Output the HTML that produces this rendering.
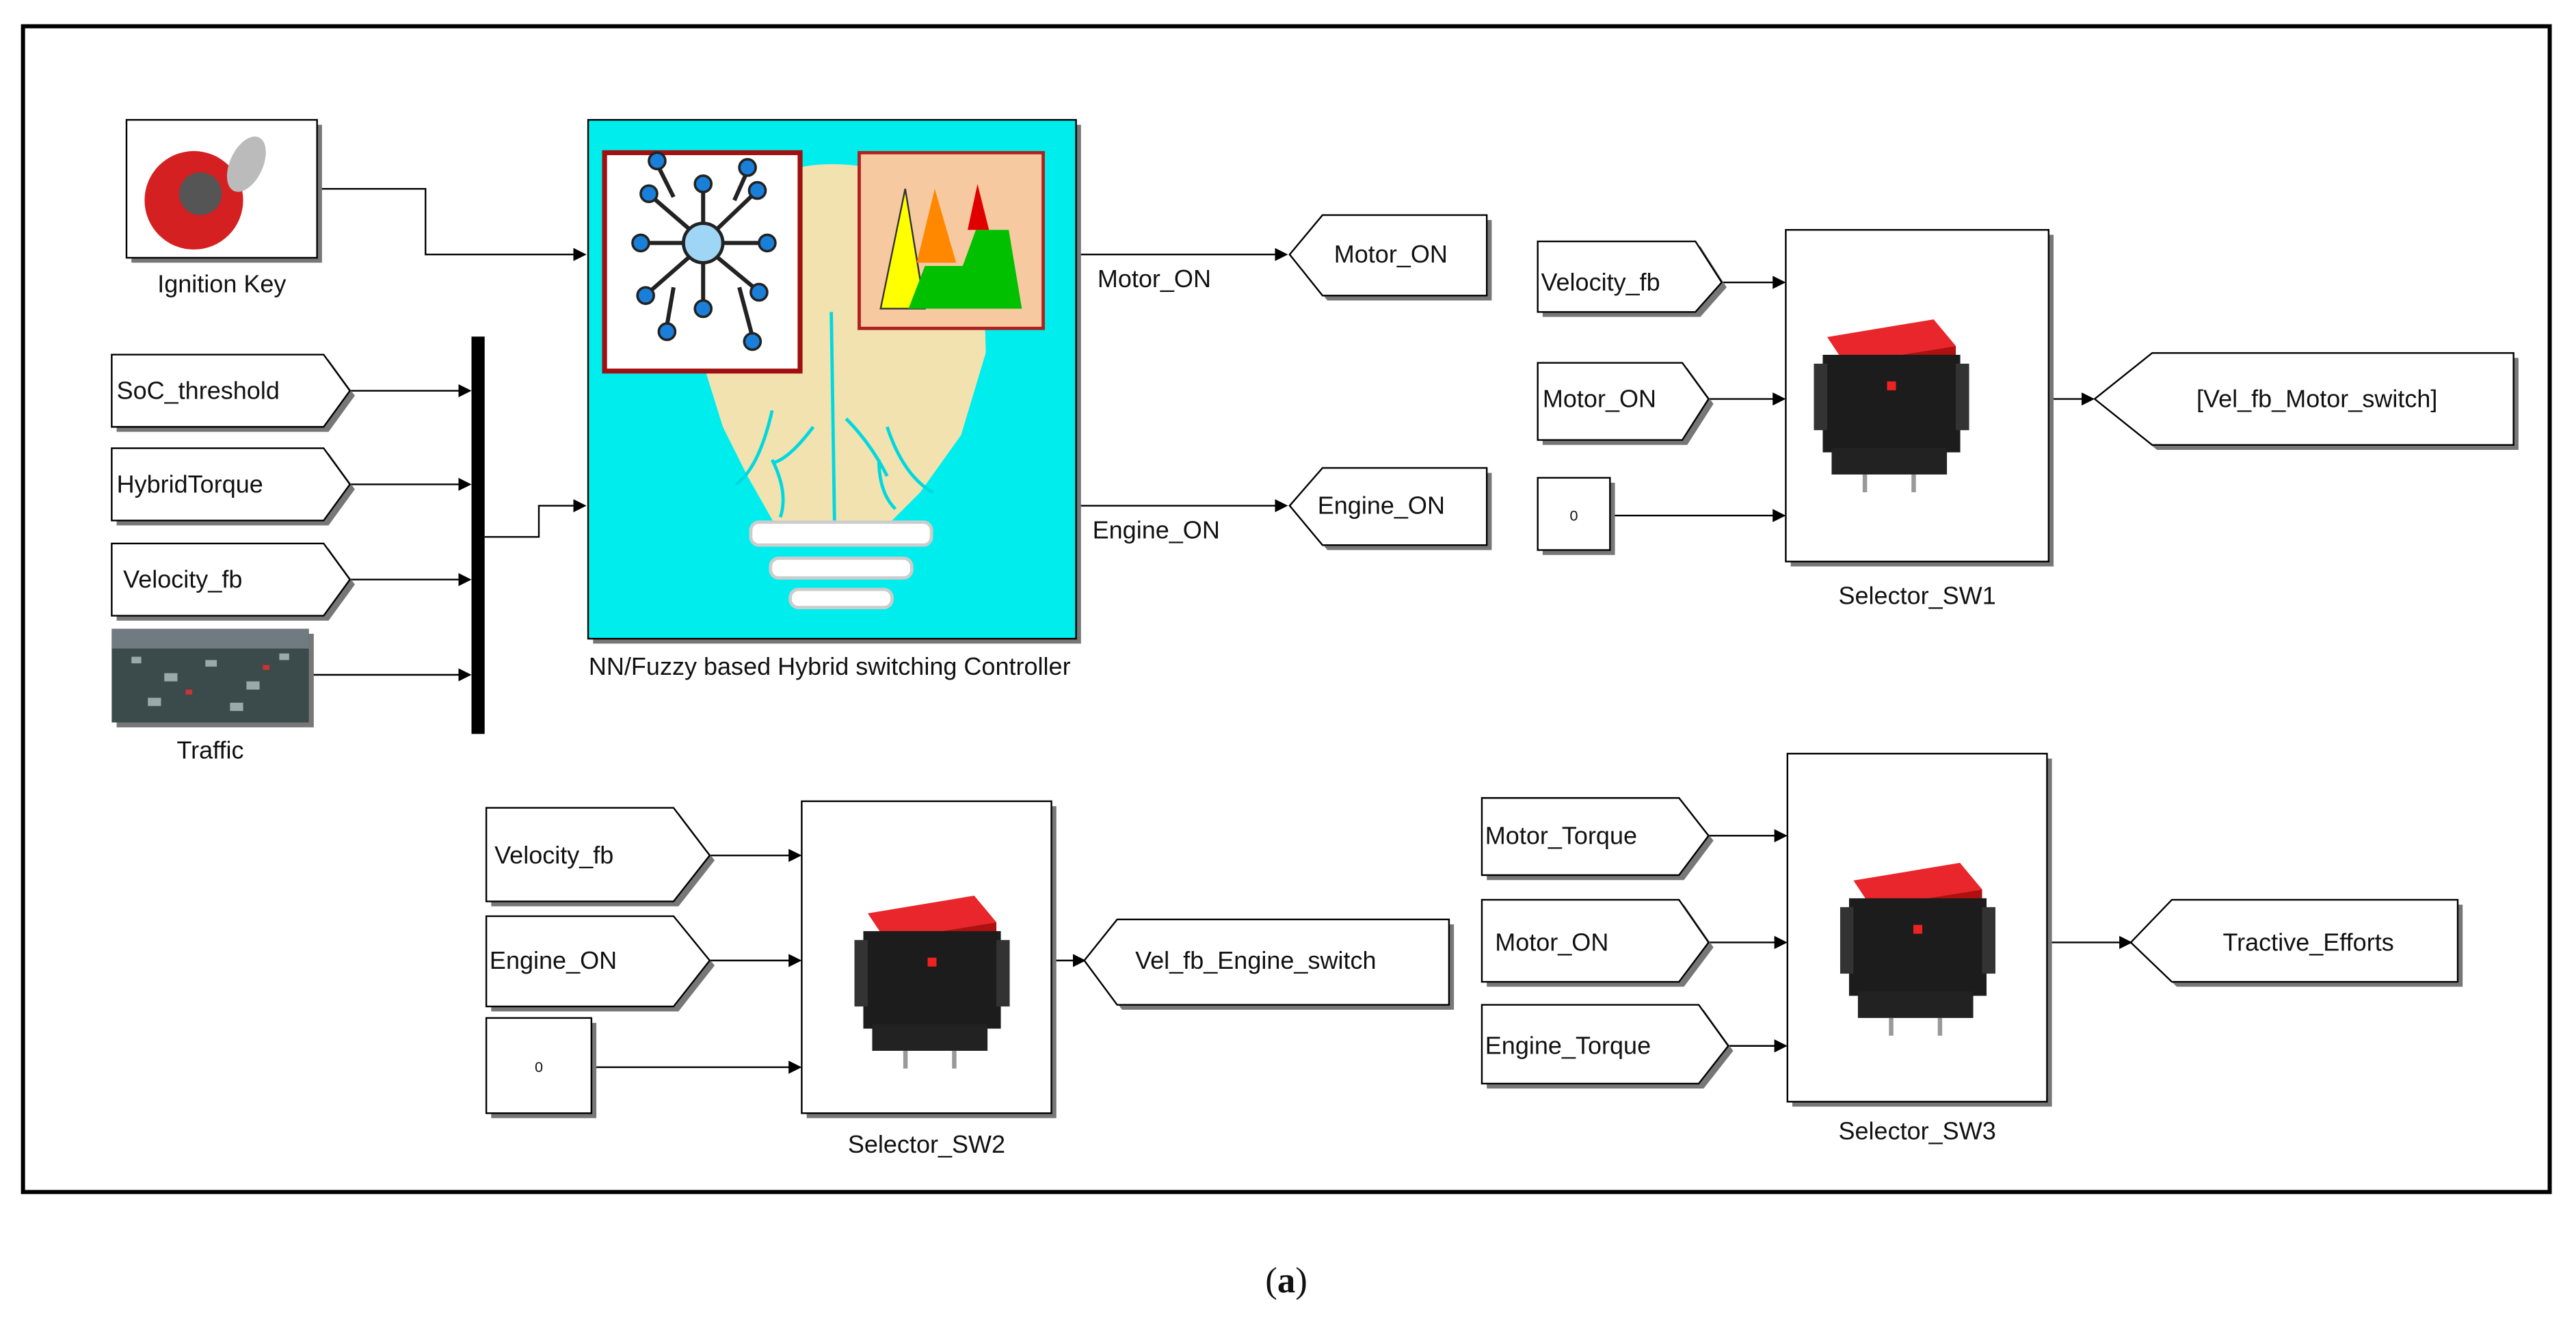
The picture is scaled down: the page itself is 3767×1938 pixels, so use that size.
<!DOCTYPE html>
<html><head><style>
html,body{margin:0;padding:0;background:#fff;}
svg{display:block;}
text{font-family:"Liberation Sans",sans-serif;fill:#111;}
</style></head><body>
<svg width="3767" height="1938" viewBox="0 0 1568 807" preserveAspectRatio="none" xmlns="http://www.w3.org/2000/svg">
<defs>
<marker id="ar" markerWidth="8" markerHeight="8" refX="7" refY="4" orient="auto" markerUnits="userSpaceOnUse">
<path d="M0,0 L8,4 L0,8 z" fill="#000"/></marker>
<g id="sw">
<path d="M-28,-22 L20,-30 L30,-18 L-20,-10 z" fill="#e8262b"/>
<path d="M-20,-10 L30,-18 L30,-12 L-20,-4 z" fill="#b01010"/>
<rect x="-30" y="-14" width="62" height="44" fill="#1c1c1c"/>
<rect x="-26" y="28" width="52" height="12" fill="#222"/>
<rect x="-34" y="-10" width="6" height="30" fill="#333"/>
<rect x="30" y="-10" width="6" height="30" fill="#333"/>
<rect x="-1" y="-2" width="4" height="4" fill="#e22"/>
<rect x="-12" y="40" width="2" height="8" fill="#999"/><rect x="10" y="40" width="2" height="8" fill="#999"/>
</g>
</defs>
<rect x="14" y="16" width="1538" height="710" fill="#fff" stroke="#000" stroke-width="2.5"/>

<g stroke="#000" stroke-width="1" fill="none">
<polyline points="193,115 259,115 259,155 356,155" marker-end="url(#ar)"/>
<line x1="213" y1="238" x2="286" y2="238" marker-end="url(#ar)"/>
<line x1="213" y1="295" x2="286" y2="295" marker-end="url(#ar)"/>
<line x1="213" y1="353" x2="286" y2="353" marker-end="url(#ar)"/>
<line x1="188" y1="411" x2="286" y2="411" marker-end="url(#ar)"/>
<polyline points="295,327 328,327 328,308 356,308" marker-end="url(#ar)"/>
<line x1="655" y1="155" x2="783" y2="155" marker-end="url(#ar)"/>
<line x1="655" y1="308" x2="783" y2="308" marker-end="url(#ar)"/>
<line x1="1048" y1="172" x2="1086" y2="172" marker-end="url(#ar)"/>
<line x1="1040" y1="243" x2="1086" y2="243" marker-end="url(#ar)"/>
<line x1="980" y1="314" x2="1086" y2="314" marker-end="url(#ar)"/>
<line x1="1247" y1="243" x2="1274" y2="243" marker-end="url(#ar)"/>
<line x1="432" y1="521" x2="487" y2="521" marker-end="url(#ar)"/>
<line x1="432" y1="585" x2="487" y2="585" marker-end="url(#ar)"/>
<line x1="360" y1="650" x2="487" y2="650" marker-end="url(#ar)"/>
<line x1="640" y1="585" x2="660" y2="585" marker-end="url(#ar)"/>
<line x1="1040" y1="509" x2="1087" y2="509" marker-end="url(#ar)"/>
<line x1="1040" y1="574" x2="1087" y2="574" marker-end="url(#ar)"/>
<line x1="1052" y1="637" x2="1087" y2="637" marker-end="url(#ar)"/>
<line x1="1246" y1="574" x2="1297" y2="574" marker-end="url(#ar)"/>
</g>

<g fill="#777">
<rect x="80" y="76" width="116" height="84"/>
<rect x="361" y="76" width="297" height="316"/>
<rect x="1090" y="143" width="160" height="202"/>
<rect x="491" y="491" width="152" height="190"/>
<rect x="1091" y="462" width="158" height="212"/>
<rect x="939" y="294" width="44" height="44"/>
<rect x="299" y="623" width="64" height="58"/>
<rect x="71" y="386" width="120" height="57"/>
</g>
<rect x="287" y="205" width="8" height="242" fill="#000"/>

<rect x="77" y="73" width="116" height="84" fill="#fff" stroke="#000"/>
<ellipse cx="118" cy="122" rx="30" ry="30" fill="#d42020"/>
<ellipse cx="122" cy="118" rx="13" ry="13" fill="#555"/>
<ellipse cx="150" cy="100" rx="10" ry="18" fill="#bbb" transform="rotate(25 150 100)"/>
<text x="135" y="178" font-size="15" text-anchor="middle">Ignition Key</text>

<rect x="358" y="73" width="297" height="316" fill="#00eded" stroke="#000"/>
<path d="M426,215 Q428,100 506,100 Q600,100 600,215 L585,265 L560,300 L540,320 L472,320 L455,290 L440,260 z" fill="#f2e2b0"/>
<g stroke="#00d8e0" stroke-width="2" fill="none"><path d="M506,190 L508,320"/><path d="M470,250 Q462,285 448,295"/><path d="M540,260 Q550,290 568,300"/><path d="M470,280 Q480,300 475,315"/><path d="M535,280 Q535,300 545,310"/><path d="M495,260 Q480,280 470,282"/><path d="M515,255 Q530,270 540,290"/></g>
<rect x="457" y="318" width="110" height="14" rx="5" fill="#fff" stroke="#ccc" stroke-width="2"/>
<rect x="469" y="340" width="86" height="12" rx="5" fill="#fff" stroke="#ccc" stroke-width="2"/>
<rect x="481" y="359" width="62" height="11" rx="5" fill="#fff" stroke="#ccc" stroke-width="2"/>
<rect x="368" y="93" width="119" height="133" fill="#fff" stroke="#a01010" stroke-width="3"/>
<circle cx="428" cy="148" r="12" fill="#9fd6f5" stroke="#222" stroke-width="2"/>
<g stroke="#222" stroke-width="2.5">
<line x1="428" y1="136" x2="428" y2="115"/><line x1="428" y1="160" x2="428" y2="185"/>
<line x1="416" y1="148" x2="392" y2="148"/><line x1="440" y1="148" x2="465" y2="148"/>
<line x1="419" y1="139" x2="397" y2="120"/><line x1="437" y1="139" x2="459" y2="118"/>
<line x1="419" y1="157" x2="395" y2="178"/><line x1="437" y1="157" x2="460" y2="176"/>
<line x1="410" y1="120" x2="400" y2="100"/><line x1="447" y1="122" x2="455" y2="104"/>
<line x1="410" y1="175" x2="406" y2="198"/><line x1="450" y1="175" x2="458" y2="205"/>
</g>
<g fill="#1a7fd8" stroke="#222" stroke-width="1.5">
<circle cx="428" cy="112" r="5"/><circle cx="428" cy="188" r="5"/><circle cx="390" cy="148" r="5"/><circle cx="467" cy="148" r="5"/>
<circle cx="395" cy="118" r="5"/><circle cx="461" cy="116" r="5"/><circle cx="393" cy="180" r="5"/><circle cx="462" cy="178" r="5"/>
<circle cx="400" cy="98" r="5"/><circle cx="455" cy="102" r="5"/><circle cx="406" cy="202" r="5"/><circle cx="458" cy="208" r="5"/>
</g>
<rect x="523" y="93" width="112" height="107" fill="#f7c9a0" stroke="#b02020" stroke-width="2"/>
<path d="M536,188 L551,115 L563,188 z" fill="#ffff00" stroke="#333"/>
<path d="M558,160 L569,115 L582,160 z" fill="#ff8800"/>
<path d="M553,188 L563,162 L586,162 L594,140 L614,140 L622,188 z" fill="#00c000"/>
<path d="M589,140 L595,112 L602,140 z" fill="#e00000"/>
<text x="505" y="411" font-size="15" text-anchor="middle">NN/Fuzzy based Hybrid switching Controller</text>
<text x="668" y="175" font-size="15">Motor_ON</text>
<text x="665" y="328" font-size="15">Engine_ON</text>

<g stroke="#000" stroke-width="1" fill="#fff">
<g transform="translate(3,3)" fill="#777" stroke="none">
<path d="M68,216 L197,216 L213,238 L197,260 L68,260 z"/>
<path d="M68,273 L197,273 L213,295 L197,317 L68,317 z"/>
<path d="M68,331 L197,331 L213,353 L197,375 L68,375 z"/>
<path d="M905,131 L805,131 L785,155 L805,180 L905,180 z"/>
<path d="M905,285 L805,285 L785,308 L805,332 L905,332 z"/>
<path d="M936,147 L1032,147 L1048,172 L1032,190 L936,190 z"/>
<path d="M936,221 L1024,221 L1040,243 L1024,268 L936,268 z"/>
<path d="M1530,215 L1310,215 L1275,243 L1310,271 L1530,271 z"/>
<path d="M296,492 L410,492 L432,521 L410,549 L296,549 z"/>
<path d="M296,558 L410,558 L432,585 L410,613 L296,613 z"/>
<path d="M882,560 L680,560 L660,585 L680,612 L882,612 z"/>
<path d="M902,486 L1022,486 L1040,509 L1022,533 L902,533 z"/>
<path d="M902,548 L1022,548 L1040,574 L1022,598 L902,598 z"/>
<path d="M902,612 L1034,612 L1052,637 L1034,660 L902,660 z"/>
<path d="M1496,548 L1322,548 L1297,574 L1322,598 L1496,598 z"/>
</g>
<path d="M68,216 L197,216 L213,238 L197,260 L68,260 z"/>
<path d="M68,273 L197,273 L213,295 L197,317 L68,317 z"/>
<path d="M68,331 L197,331 L213,353 L197,375 L68,375 z"/>
<path d="M905,131 L805,131 L785,155 L805,180 L905,180 z"/>
<path d="M905,285 L805,285 L785,308 L805,332 L905,332 z"/>
<path d="M936,147 L1032,147 L1048,172 L1032,190 L936,190 z"/>
<path d="M936,221 L1024,221 L1040,243 L1024,268 L936,268 z"/>
<path d="M1530,215 L1310,215 L1275,243 L1310,271 L1530,271 z"/>
<path d="M296,492 L410,492 L432,521 L410,549 L296,549 z"/>
<path d="M296,558 L410,558 L432,585 L410,613 L296,613 z"/>
<path d="M882,560 L680,560 L660,585 L680,612 L882,612 z"/>
<path d="M902,486 L1022,486 L1040,509 L1022,533 L902,533 z"/>
<path d="M902,548 L1022,548 L1040,574 L1022,598 L902,598 z"/>
<path d="M902,612 L1034,612 L1052,637 L1034,660 L902,660 z"/>
<path d="M1496,548 L1322,548 L1297,574 L1322,598 L1496,598 z"/>
<rect x="936" y="291" width="44" height="44"/>
<rect x="296" y="620" width="64" height="58"/>
<rect x="1087" y="140" width="160" height="202"/>
<rect x="488" y="488" width="152" height="190"/>
<rect x="1088" y="459" width="158" height="212"/>
</g>
<rect x="68" y="383" width="120" height="57" fill="#3b4a4a"/>
<rect x="68" y="383" width="120" height="12" fill="#6f7b80"/>
<g fill="#9aa"><rect x="80" y="400" width="6" height="4"/><rect x="100" y="410" width="8" height="5"/><rect x="125" y="402" width="7" height="4"/><rect x="150" y="415" width="8" height="5"/><rect x="170" y="398" width="6" height="4"/><rect x="90" y="425" width="8" height="5"/><rect x="140" y="428" width="8" height="5"/></g>
<g fill="#c33"><rect x="160" y="405" width="4" height="3"/><rect x="113" y="420" width="4" height="3"/></g>
<text x="128" y="462" font-size="15" text-anchor="middle">Traffic</text>

<g font-size="15">
<text x="71" y="243">SoC_threshold</text>
<text x="71" y="300">HybridTorque</text>
<text x="75" y="358">Velocity_fb</text>
<text x="812" y="160">Motor_ON</text>
<text x="802" y="313">Engine_ON</text>
<text x="938" y="177">Velocity_fb</text>
<text x="939" y="248">Motor_ON</text>
<text x="1337" y="248">[Vel_fb_Motor_switch]</text>
<text x="1167" y="368" text-anchor="middle">Selector_SW1</text>
<text x="301" y="526">Velocity_fb</text>
<text x="298" y="590">Engine_ON</text>
<text x="691" y="590">Vel_fb_Engine_switch</text>
<text x="564" y="702" text-anchor="middle">Selector_SW2</text>
<text x="904" y="514">Motor_Torque</text>
<text x="910" y="579">Motor_ON</text>
<text x="904" y="642">Engine_Torque</text>
<text x="1353" y="579">Tractive_Efforts</text>
<text x="1167" y="694" text-anchor="middle">Selector_SW3</text>
</g>
<text x="958" y="317" font-size="9" text-anchor="middle">0</text>
<text x="328" y="653" font-size="9" text-anchor="middle">0</text>

<use href="#sw" transform="translate(1150,235) scale(1.35)"/>
<use href="#sw" transform="translate(566,586) scale(1.35)"/>
<use href="#sw" transform="translate(1166,566) scale(1.35)"/>

<text x="783" y="787" font-size="22" text-anchor="middle" style="font-family:'Liberation Serif',serif">(<tspan font-weight="bold">a</tspan>)</text>
</svg>
</body></html>
